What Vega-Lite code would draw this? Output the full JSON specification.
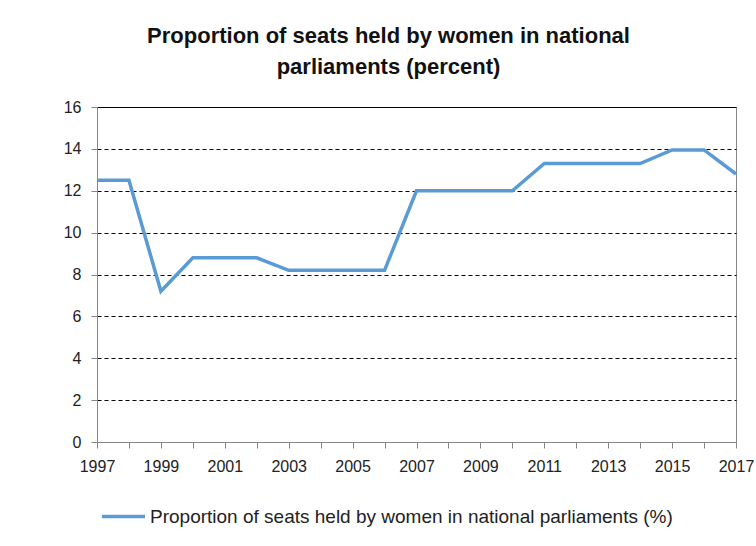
{
  "$schema": "https://vega.github.io/schema/vega-lite/v6.json",
  "autosize": {"type": "none"},
  "width": 639,
  "height": 335,
  "padding": {"left": 97, "top": 107, "right": 20, "bottom": 104},
  "background": "white",
  "title": {
    "text": ["Proportion of seats held by women in national", "parliaments (percent)"],
    "anchor": "middle",
    "dx": -28,
    "offset": 20,
    "font": "Liberation Sans",
    "fontSize": 22,
    "fontWeight": "bold",
    "lineHeight": 31,
    "color": "#111111"
  },
  "data": {
    "values": [
      {"year": 1997, "value": 12.5, "series": "Proportion of seats held by women in national parliaments (%)"},
      {"year": 1998, "value": 12.5, "series": "Proportion of seats held by women in national parliaments (%)"},
      {"year": 1999, "value": 7.2, "series": "Proportion of seats held by women in national parliaments (%)"},
      {"year": 2000, "value": 8.8, "series": "Proportion of seats held by women in national parliaments (%)"},
      {"year": 2001, "value": 8.8, "series": "Proportion of seats held by women in national parliaments (%)"},
      {"year": 2002, "value": 8.8, "series": "Proportion of seats held by women in national parliaments (%)"},
      {"year": 2003, "value": 8.2, "series": "Proportion of seats held by women in national parliaments (%)"},
      {"year": 2004, "value": 8.2, "series": "Proportion of seats held by women in national parliaments (%)"},
      {"year": 2005, "value": 8.2, "series": "Proportion of seats held by women in national parliaments (%)"},
      {"year": 2006, "value": 8.2, "series": "Proportion of seats held by women in national parliaments (%)"},
      {"year": 2007, "value": 12.0, "series": "Proportion of seats held by women in national parliaments (%)"},
      {"year": 2008, "value": 12.0, "series": "Proportion of seats held by women in national parliaments (%)"},
      {"year": 2009, "value": 12.0, "series": "Proportion of seats held by women in national parliaments (%)"},
      {"year": 2010, "value": 12.0, "series": "Proportion of seats held by women in national parliaments (%)"},
      {"year": 2011, "value": 13.3, "series": "Proportion of seats held by women in national parliaments (%)"},
      {"year": 2012, "value": 13.3, "series": "Proportion of seats held by women in national parliaments (%)"},
      {"year": 2013, "value": 13.3, "series": "Proportion of seats held by women in national parliaments (%)"},
      {"year": 2014, "value": 13.3, "series": "Proportion of seats held by women in national parliaments (%)"},
      {"year": 2015, "value": 13.95, "series": "Proportion of seats held by women in national parliaments (%)"},
      {"year": 2016, "value": 13.95, "series": "Proportion of seats held by women in national parliaments (%)"},
      {"year": 2017, "value": 12.8, "series": "Proportion of seats held by women in national parliaments (%)"}
    ]
  },
  "mark": {"type": "line", "strokeWidth": 3.5, "strokeJoin": "miter"},
  "encoding": {
    "x": {
      "field": "year",
      "type": "quantitative",
      "scale": {"domain": [1997, 2017], "nice": false, "zero": false},
      "axis": {
        "title": null,
        "values": [1997,1998,1999,2000,2001,2002,2003,2004,2005,2006,2007,2008,2009,2010,2011,2012,2013,2014,2015,2016,2017],
        "labelExpr": "datum.value % 2 == 1 ? format(datum.value, 'd') : ''",
        "grid": false,
        "domainColor": "#868686",
        "tickColor": "#868686",
        "tickSize": 6,
        "labelPadding": 10,
        "labelFont": "Liberation Sans",
        "labelFontSize": 16,
        "labelColor": "#222222",
        "labelOverlap": false,
        "labelFlush": false
      }
    },
    "y": {
      "field": "value",
      "type": "quantitative",
      "scale": {"domain": [0, 16], "nice": false},
      "axis": {
        "title": null,
        "values": [0,2,4,6,8,10,12,14,16],
        "grid": true,
        "gridColor": "#000000",
        "gridWidth": 1,
        "gridDash": {"condition": {"test": "datum.value === 16", "value": []}, "value": [4, 3]},
        "gridOpacity": {"condition": {"test": "datum.value === 0", "value": 0}, "value": 1},
        "domainColor": "#868686",
        "tickColor": "#868686",
        "tickSize": 6,
        "labelPadding": 10,
        "labelFont": "Liberation Sans",
        "labelFontSize": 16,
        "labelColor": "#222222"
      }
    },
    "color": {
      "field": "series",
      "type": "nominal",
      "scale": {"range": ["#5B9BD5"]},
      "legend": {
        "title": null,
        "orient": "none",
        "legendX": 3,
        "legendY": 386,
        "symbolType": "stroke",
        "symbolSize": 1849,
        "symbolStrokeWidth": 3.5,
        "symbolOffset": 0,
        "labelOffset": 3,
        "labelFont": "Liberation Sans",
        "labelFontSize": 19,
        "labelColor": "#222222",
        "labelLimit": 700
      }
    }
  },
  "config": {
    "view": {"stroke": "#868686", "strokeWidth": 1}
  }
}
